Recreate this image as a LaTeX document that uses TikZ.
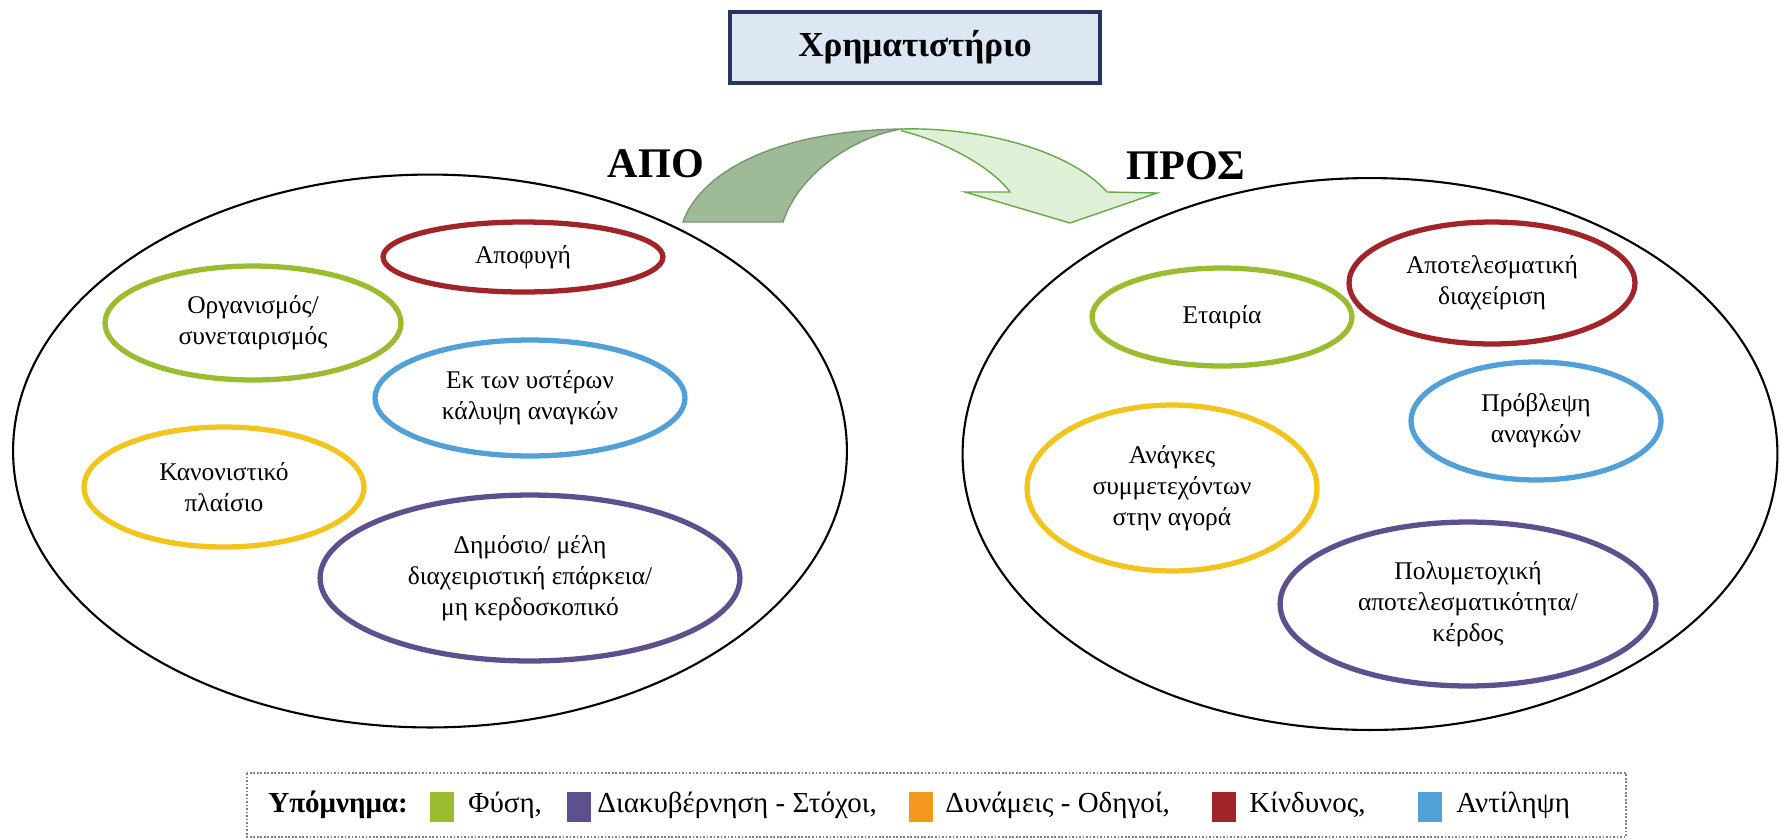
\documentclass[tikz,border=0pt]{standalone}
\usepackage{fontspec}
\setmainfont{Liberation Serif}
\usetikzlibrary{shapes.geometric}
\definecolor{kred}{RGB}{160,36,40}
\definecolor{kgreen}{RGB}{156,188,48}
\definecolor{kblue}{RGB}{82,160,216}
\definecolor{kyellow}{RGB}{242,196,28}
\definecolor{kpurple}{RGB}{92,80,142}
\definecolor{korange}{RGB}{243,154,30}
\definecolor{titlefill}{RGB}{221,231,243}
\definecolor{titledraw}{RGB}{40,52,100}
\definecolor{arrowdark}{RGB}{158,186,150}
\definecolor{arrowdarkline}{RGB}{120,150,112}
\definecolor{arrowlight}{RGB}{222,240,213}
\definecolor{arrowlightline}{RGB}{104,168,74}
\tikzset{
  ell/.style 2 args={ellipse, line width=3pt, minimum width=#1*0.04cm, minimum height=#2*0.04cm, inner sep=0pt, align=center, font=\fontsize{14.5}{17.5}\selectfont},
  bigell/.style={ellipse, draw=black, line width=1.2pt, inner sep=0pt},
  side/.style={font=\bfseries\fontsize{24}{28}\selectfont, inner sep=0pt},
  legsq/.style={fill=#1, minimum width=0.48cm, minimum height=0.6cm, inner sep=0pt},
  legtxt/.style={anchor=west, inner sep=0pt, font=\fontsize{16.5}{19}\selectfont}
}

\begin{document}
\begin{tikzpicture}[x=0.02cm, y=-0.02cm]
\fill[white] (0,0) rectangle (1781,839);
\useasboundingbox (0,0) rectangle (1781,839);

%Title
\node[draw=titledraw, line width=2pt, fill=titlefill, minimum width=7.4cm, minimum height=1.42cm, font=\bfseries\fontsize{20}{24}\selectfont] (title) at (915,47.5) {Χρηματιστήριο};

%Big ellipses
\node[bigell, minimum width=16.68cm, minimum height=11.06cm] (apo) at (430,451) {};
\node[bigell, minimum width=16.3cm, minimum height=11.04cm] (pros) at (1370,454) {};
\node[side] (apolabel) at (656,164) {ΑΠΟ};
\node[side] (proslabel) at (1186,166) {ΠΡΟΣ};

%Arrow from ΑΠΟ to ΠΡΟΣ
\filldraw[fill=arrowdark, draw=arrowdarkline, line width=0.8pt] (683,222) .. controls (698,178) and (765,131) .. (902,129) .. controls (860,135) and (800,170) .. (783,222) -- cycle;
\filldraw[fill=arrowlight, draw=arrowlightline, line width=0.8pt] (902,129) .. controls (980,127) and (1070,150) .. (1107,192) -- (1157,193) -- (1070,223) -- (965,192) -- (1010,192) .. controls (990,165) and (940,140) .. (902,131) -- cycle;

%ΑΠΟ side
\node[ell={140}{35}, draw=kred] (apofygi) at (523,257) {Αποφυγή};
\node[ell={148}{57}, draw=kgreen] (organismos) at (253,323) {Οργανισμός/\\συνεταιρισμός};
\node[ell={155}{58}, draw=kblue] (ekton) at (530,398) {Εκ των υστέρων\\κάλυψη αναγκών};
\node[ell={140}{60}, draw=kyellow] (kanonistiko) at (224,487) {Κανονιστικό\\πλαίσιο};
\node[ell={210}{83}, draw=kpurple] (dimosio) at (530,578) {Δημόσιο/ μέλη\\διαχειριστική επάρκεια/\\μη κερδοσκοπικό};

%ΠΡΟΣ side
\node[ell={130}{49}, draw=kgreen] (etairia) at (1222,317) {Εταιρία};
\node[ell={143}{61}, draw=kred] (apotel) at (1492,283) {Αποτελεσματική\\διαχείριση};
\node[ell={125}{59}, draw=kblue] (provlepsi) at (1536,421) {Πρόβλεψη\\αναγκών};
\node[ell={145}{83}, draw=kyellow] (anagkes) at (1172,488) {Ανάγκες\\συμμετεχόντων\\στην αγορά};
\node[ell={188}{82}, draw=kpurple] (polymet) at (1468,604) {Πολυμετοχική\\αποτελεσματικότητα/\\κέρδος};

%Legend
\draw[gray, densely dotted, line width=1pt] (247,773) rectangle (1626,837);
\node[legtxt, font=\bfseries\fontsize{16.5}{19}\selectfont] (legtitle) at (268,805) {Υπόμνημα:};
\node[legsq=kgreen] (sqfysi) at (442,807) {};
\node[legtxt] (fysi) at (468,805) {Φύση,};
\node[legsq=kpurple] (sqdiak) at (579,807) {};
\node[legtxt] (diak) at (597,805) {Διακυβέρνηση - Στόχοι,};
\node[legsq=korange] (sqdyn) at (921,807) {};
\node[legtxt] (dyn) at (945,805) {Δυνάμεις - Οδηγοί,};
\node[legsq=kred] (sqkind) at (1224,807) {};
\node[legtxt] (kind) at (1249,805) {Κίνδυνος,};
\node[legsq=kblue] (sqantil) at (1430,807) {};
\node[legtxt] (antil) at (1456,805) {Αντίληψη};
\end{tikzpicture}
\end{document}
